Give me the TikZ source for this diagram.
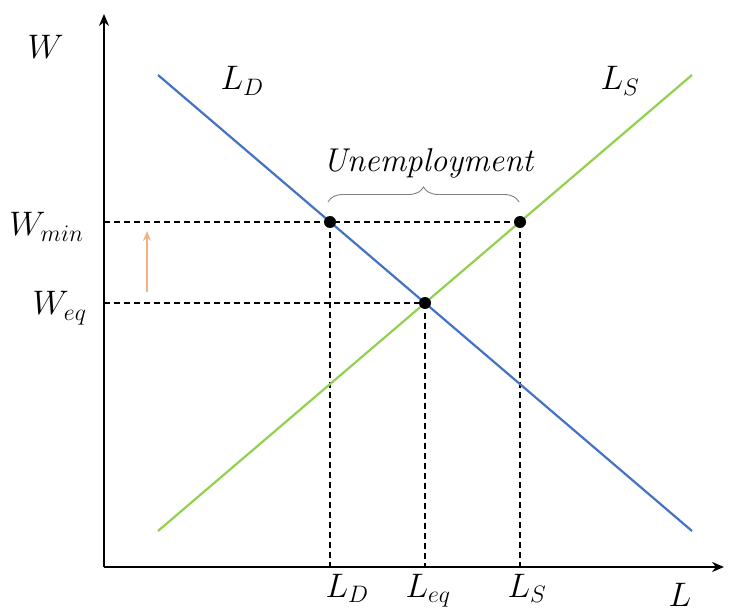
\RequirePackage{fix-cm}
\documentclass[tikz,border=0pt]{standalone}
\usepackage{amsmath,amssymb}
\usepackage{tikz}
\usetikzlibrary{arrows.meta,decorations.pathreplacing}
\usepackage{xcolor}
\definecolor{cbleu}{RGB}{68,114,196}
\definecolor{cvert}{RGB}{146,208,80}
\definecolor{corange}{RGB}{244,177,131}

\begin{document}
\begin{tikzpicture}[x=1pt, y=1pt, >={Stealth[length=12pt,width=10pt]},
  lab/.style={font=\fontsize{34}{38}\selectfont},
  guide/.style={dashed, line width=1.2pt, dash pattern=on 6pt off 4pt}]
\useasboundingbox (0,0) rectangle (731,614);
\coordinate (O) at (104,47); \coordinate (Ytop) at (104,600);
\coordinate (Xend) at (724,47);
\coordinate (D1) at (158,539); \coordinate (D2) at (692,83);
\coordinate (S1) at (158,83); \coordinate (S2) at (692,539);
\coordinate (A) at (330,392); \coordinate (B) at (520,392);
\coordinate (E) at (425,311);
\coordinate (Ay) at (104,392); \coordinate (Ey) at (104,311);
\coordinate (Ax) at (330,47); \coordinate (Ex) at (425,47); \coordinate (Bx) at (520,47);
\draw[line width=2.2pt,->] (O) -- (Ytop);
\draw[line width=2.2pt,->] (O) -- (Xend);
\draw[guide] (Ay) -- (B);
\draw[guide] (Ey) -- (E);
\draw[guide] (A) -- (Ax);
\draw[guide] (E) -- (Ex);
\draw[guide] (B) -- (Bx);
\draw[cbleu, line width=2.2pt] (D1) -- (D2);
\draw[cvert, line width=2.2pt] (S1) -- (S2);
\foreach \p in {A,B,E}
  {\fill (\p) circle (6pt);}
\coordinate (brL) at (328,412); \coordinate (brR) at (519,412);
\draw[gray, line width=0.9pt, decorate, decoration={brace, amplitude=15pt}] (brL) -- (brR);
\node[font=\fontsize{33}{38}\selectfont\itshape, anchor=base] (unemp) at (428,442) {Unemployment};
\coordinate (wlo) at (147,322); \coordinate (whi) at (147,383);
\draw[corange, line width=1.4pt, -{Stealth[length=10pt,width=8pt]}] (wlo) -- (whi);
\node[lab, anchor=base west] (w) at (24,555) {$W$};
\node[lab, anchor=base east] (wmin) at (87,378) {$W_{min}$};
\node[lab, anchor=base east] (weq) at (90,299) {$W_{eq}$};
\node[lab, anchor=base west] (ldtop) at (217,524) {$L_D$};
\node[lab, anchor=base west] (lstop) at (597,524) {$L_S$};
\node[lab, anchor=base west] (ldbot) at (322,17) {$L_D$};
\node[lab, anchor=base west] (leq) at (402,17) {$L_{eq}$};
\node[lab, anchor=base west] (lsbot) at (504,17) {$L_S$};
\node[lab, anchor=base west] (l) at (665,8) {$L$};
\end{tikzpicture}
\end{document}
